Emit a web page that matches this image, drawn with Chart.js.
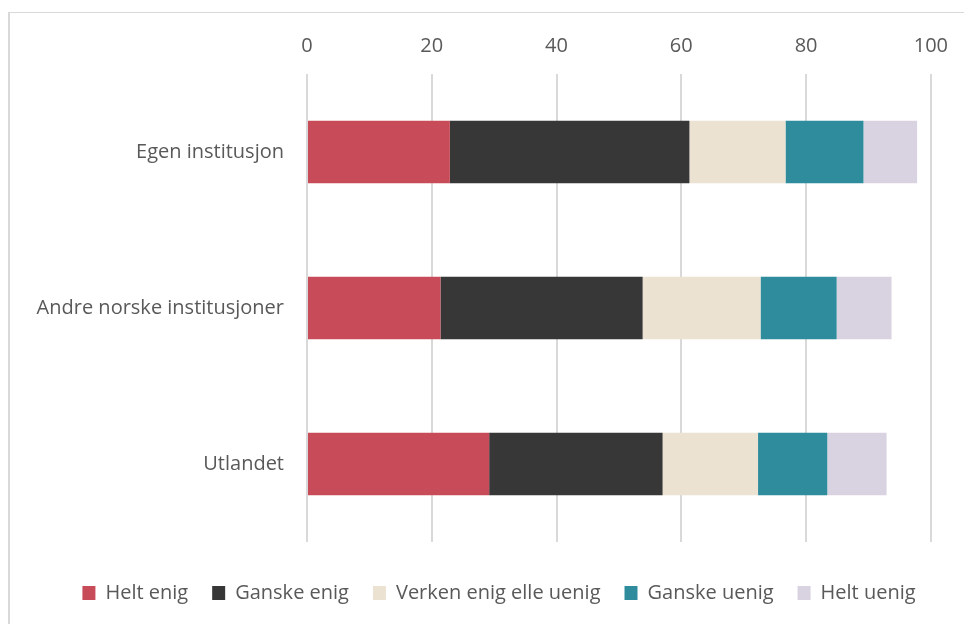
<!DOCTYPE html>
<html>
<head>
<meta charset="utf-8">
<script src="https://cdn.jsdelivr.net/npm/chart.js@4/dist/chart.umd.min.js"></script>
<style>
  html, body { margin: 0; padding: 0; background: #fff; overflow: hidden; }
  #wrap { position: relative; width: 964px; height: 624px; }
  #frame { position: absolute; left: 8px; top: 12px; right: -4px; bottom: -4px; border-left: 2px solid #d9d9d9; border-top: 1px solid #d9d9d9; }
  canvas { position: absolute; left: 0; top: 0; }
</style>
</head>
<body>
<div id="wrap">
  <div id="frame"></div>
  <canvas id="chart" width="964" height="624"></canvas>
</div>
<script>
const categories = ['Egen institusjon', 'Andre norske institusjoner', 'Utlandet'];
const seriesNames = ['Helt enig', 'Ganske enig', 'Verken enig elle uenig', 'Ganske uenig', 'Helt uenig'];
const heltEnig = [22.9, 21.4, 29.2];
const ganskeEnig = [38.4, 32.4, 27.8];
const verken = [15.4, 18.9, 15.3];
const ganskeUenig = [12.5, 12.2, 11.1];
const heltUenig = [8.6, 8.8, 9.5];
const xTicks = [0, 20, 40, 60, 80, 100];

const colors = ['#c84b5a', '#373737', '#ece2d2', '#2e8c9c', '#d9d2e0'];
const values = [heltEnig, ganskeEnig, verken, ganskeUenig, heltUenig];

const textColor = '#595959';
const font = { family: '"Open Sans", "Noto Sans", sans-serif', size: 20 };

const ctx = document.getElementById('chart').getContext('2d');
new Chart(ctx, {
  type: 'bar',
  data: {
    labels: categories,
    datasets: seriesNames.map((name, i) => ({
      label: name,
      data: values[i],
      backgroundColor: colors[i],
      borderWidth: 0,
      categoryPercentage: 0.4,
      barPercentage: 1
    }))
  },
  options: {
    indexAxis: 'y',
    responsive: false,
    animation: false,
    layout: { padding: { left: 34, right: 0, top: 18, bottom: 11 } },
    plugins: {
      tooltip: { enabled: false },
      legend: {
        position: 'bottom',
        labels: {
          color: textColor,
          font: font,
          boxWidth: 13,
          boxHeight: 14,
          padding: 24
        }
      }
    },
    scales: {
      x: {
        position: 'top',
        stacked: true,
        min: 0,
        max: 100,
        afterBuildTicks: (scale) => { scale.ticks = xTicks.map(v => ({ value: v })); },
        ticks: { color: textColor, font: font, padding: 16 },
        grid: { color: '#d9d9d9', lineWidth: 2, drawTicks: false },
        border: { display: false }
      },
      x2: {
        position: 'bottom',
        type: 'linear',
        min: 0,
        max: 100,
        ticks: { display: false },
        grid: { display: false },
        border: { display: false },
        afterFit: (scale) => { scale.height = 17; }
      },
      y: {
        stacked: true,
        ticks: { color: textColor, font: font, padding: 23 },
        grid: { display: false, drawTicks: false },
        border: { display: false },
        afterFit: (scale) => { scale.width = 273; }
      },
      y2: {
        position: 'right',
        type: 'linear',
        ticks: { display: false },
        grid: { display: false },
        border: { display: false },
        afterFit: (scale) => { scale.width = 32; }
      }
    }
  }
});
</script>
</body>
</html>
